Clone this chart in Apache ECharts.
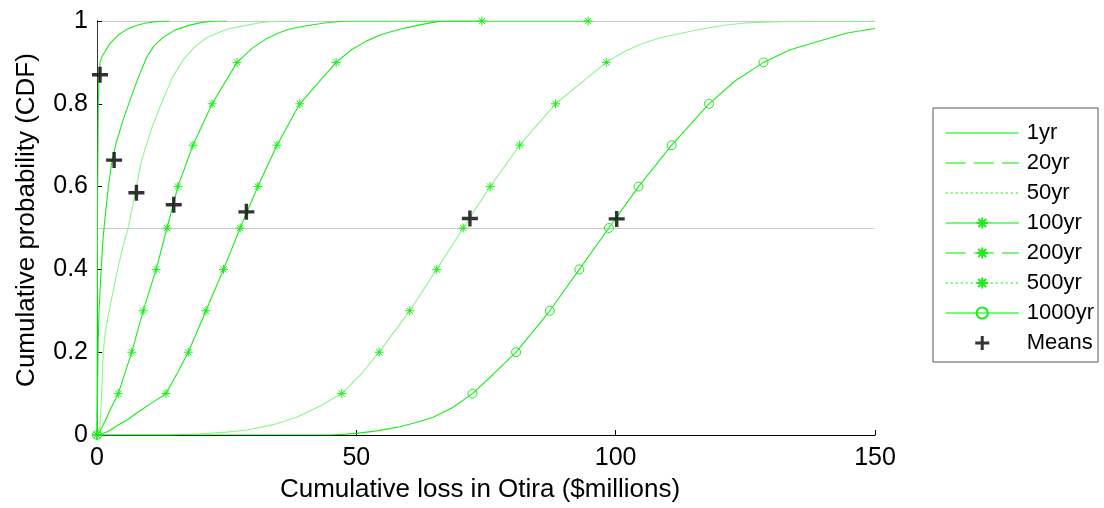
<!DOCTYPE html>
<html>
<head>
<meta charset="utf-8">
<script src="https://cdn.jsdelivr.net/npm/echarts@6/dist/echarts.min.js"></script>
<style>
html,body{margin:0;padding:0;background:#fff;}
#chart{width:1104px;height:508px;}
</style>
</head>
<body>
<div id="chart"></div>
<script>
// ---- data ----
const seriesNames = ['1yr', '20yr', '50yr', '100yr', '200yr', '500yr', '1000yr'];

const curve1yr = [[0,0],[0.05,0.3],[0.1,0.55],[0.2,0.72],[0.25,0.8],[0.4,0.86],[0.58,0.9],[1.0,0.915],[1.5,0.925],[2.5,0.946],[4.1,0.966],[5.5,0.978],[7.3,0.988],[9,0.994],[10.5,0.997],[12,0.999],[14,1]];
const curve20yr = [[0,0],[0.1,0.1],[0.2,0.2],[0.3,0.26],[0.4,0.3],[0.8,0.4],[1.2,0.48],[1.6,0.53],[2.2,0.6],[2.9,0.664],[3.8,0.71],[5,0.76],[6.4,0.81],[8,0.865],[9.6,0.913],[11,0.94],[12.7,0.96],[15,0.978],[17.9,0.99],[20,0.996],[22.4,1],[25,1]];
const curve50yr = [[0,0],[0.58,0.02],[0.9,0.1],[1.2,0.2],[1.6,0.25],[2.2,0.29],[3,0.34],[3.8,0.39],[4.9,0.45],[6,0.5],[7.3,0.58],[8.6,0.664],[10.5,0.74],[12.7,0.81],[14.6,0.865],[16.6,0.906],[18.8,0.937],[21.2,0.96],[25,0.98],[28.9,0.99],[32,0.997],[35,1],[38,1]];
const curve100yr = [[0,0],[0.5,0.008],[1,0.02],[1.6,0.035],[2.2,0.052],[3.1,0.075],[4.1,0.1],[5.4,0.15],[6.7,0.2],[8.9,0.3],[11.4,0.4],[13.5,0.5],[15.6,0.6],[18.5,0.7],[22.2,0.8],[27,0.9],[30,0.935],[32.8,0.958],[35,0.971],[37,0.98],[39.3,0.986],[41.6,0.991],[45,0.997],[48,1],[74.2,1]];
const curve200yr = [[0,0],[1,0.003],[2,0.008],[3,0.015],[4.1,0.024],[6,0.038],[8,0.056],[10.5,0.077],[13.3,0.1],[15.5,0.15],[17.6,0.2],[21,0.3],[24.4,0.4],[27.6,0.5],[31,0.6],[34.7,0.7],[39.1,0.8],[46.1,0.9],[49,0.93],[52,0.952],[55,0.968],[58.4,0.98],[62,0.99],[64.5,0.996],[66.7,1],[94.7,1]];
const curve500yr = [[0,0],[14,0],[20,0.003],[25,0.007],[28.9,0.012],[34,0.025],[38.5,0.043],[43,0.07],[47.2,0.1],[51,0.148],[54.4,0.2],[60.3,0.3],[65.5,0.4],[70.6,0.5],[75.8,0.6],[81.5,0.7],[88.4,0.8],[98.2,0.9],[101.5,0.925],[105,0.945],[108.5,0.959],[112.4,0.97],[116.3,0.98],[120.5,0.989],[125,0.995],[130,0.998],[136,1],[150,1]];
const curve1000yr = [[0,0],[45,0],[48,0.002],[50,0.004],[54,0.01],[58.4,0.02],[61.5,0.03],[64.8,0.043],[68.5,0.066],[72.4,0.1],[76.5,0.148],[80.8,0.2],[87.3,0.3],[93,0.4],[98.7,0.5],[104.4,0.6],[110.8,0.7],[118,0.8],[123,0.855],[128.5,0.9],[133.5,0.93],[138,0.947],[144.6,0.971],[150,0.982]];

// marker positions (points of each curve that carry a symbol)
const marks100yr = [[0,0],[4.1,0.1],[6.7,0.2],[8.9,0.3],[11.4,0.4],[13.5,0.5],[15.6,0.6],[18.5,0.7],[22.2,0.8],[27,0.9],[74.2,1]];
const marks200yr = [[0,0],[13.3,0.1],[17.6,0.2],[21,0.3],[24.4,0.4],[27.6,0.5],[31,0.6],[34.7,0.7],[39.1,0.8],[46.1,0.9],[94.7,1]];
const marks500yr = [[0,0],[47.2,0.1],[54.4,0.2],[60.3,0.3],[65.5,0.4],[70.6,0.5],[75.8,0.6],[81.5,0.7],[88.4,0.8],[98.2,0.9]];
const marks1000yr = [[0,0],[72.4,0.1],[80.8,0.2],[87.3,0.3],[93,0.4],[98.7,0.5],[104.4,0.6],[110.8,0.7],[118,0.8],[128.5,0.9]];

// means (plotted at their CDF level)
const meansData = [[0.58,0.87],[3.3,0.664],[7.6,0.585],[14.8,0.556],[28.8,0.539],[71.9,0.523],[100.2,0.522]];

const xTicks = [0, 50, 100, 150];
const yTicks = [0, 0.2, 0.4, 0.6, 0.8, 1];

// ---- styling ----
const FONT = 'Liberation Sans, Arial, sans-serif';
const BRIGHT = '#19ec19';
const LIGHT = '#8cf58c';
const LEG = '#4cf54c';
const STAR = 'path://M5,0L5,10M0,5L10,5M1.5,1.5L8.5,8.5M1.5,8.5L8.5,1.5';
const CROSS = 'path://M6.3,0H9.7V6.3H16V9.7H9.7V16H6.3V9.7H0V6.3H6.3Z';

function buildData(curve, marks) {
  const items = [];
  const key = p => p[0] + '_' + p[1];
  const markKeys = new Set((marks || []).map(key));
  curve.forEach(p => { if (!markKeys.has(key(p))) items.push({ value: p, symbol: 'none' }); });
  (marks || []).forEach(p => items.push({ value: p }));
  items.sort((a, b) => (a.value[0] - b.value[0]) || (a.value[1] - b.value[1]));
  return items;
}

function lineSeries(name, curve, marks, color, symbol, size, itemStyle) {
  return {
    name: name,
    type: 'line',
    data: buildData(curve, marks),
    symbol: symbol,
    symbolSize: size,
    showSymbol: true,
    showAllSymbol: true,
    smooth: false,
    lineStyle: { color: color, width: 1.1, type: 'solid' },
    itemStyle: itemStyle || { color: BRIGHT },
    emphasis: { disabled: true },
    z: 3
  };
}

const starStyle = { color: BRIGHT, borderColor: BRIGHT, borderWidth: 1 };
const circleStyle = { color: 'rgba(0,0,0,0)', borderColor: BRIGHT, borderWidth: 1 };

const series = [
  lineSeries(seriesNames[0], curve1yr, null, BRIGHT, 'none', 0),
  lineSeries(seriesNames[1], curve20yr, null, BRIGHT, 'none', 0),
  lineSeries(seriesNames[2], curve50yr, null, LIGHT, 'none', 0),
  lineSeries(seriesNames[3], curve100yr, marks100yr, BRIGHT, STAR, 9, starStyle),
  lineSeries(seriesNames[4], curve200yr, marks200yr, BRIGHT, STAR, 9, starStyle),
  lineSeries(seriesNames[5], curve500yr, marks500yr, LIGHT, STAR, 9, starStyle),
  lineSeries(seriesNames[6], curve1000yr, marks1000yr, BRIGHT, 'circle', 9, circleStyle),
  {
    name: 'Means',
    type: 'scatter',
    data: meansData,
    symbol: CROSS,
    symbolSize: 16,
    itemStyle: { color: '#000' },
    emphasis: { disabled: true },
    z: 5
  }
];

const noSym = { opacity: 0 };
const option = {
  animation: false,
  backgroundColor: '#fff',
  grid: { left: 97, right: 229, top: 21, bottom: 72, containLabel: false },
  legend: {
    orient: 'vertical',
    left: 933,
    top: 108,
    padding: [14, 4, 8, 12],
    itemGap: 8,
    itemWidth: 73,
    itemHeight: 14,
    borderColor: '#555',
    borderWidth: 1,
    backgroundColor: '#fff',
    selectedMode: false,
    textStyle: { fontFamily: FONT, fontSize: 22, color: '#000', lineHeight: 22, padding: [0, 0, 0, 3] },
    data: [
      { name: '1yr', itemStyle: noSym, lineStyle: { color: LEG, width: 1.5, type: 'solid' } },
      { name: '20yr', itemStyle: noSym, lineStyle: { color: LEG, width: 1.5, type: [20, 8] } },
      { name: '50yr', itemStyle: noSym, lineStyle: { color: LEG, width: 1.5, type: [2, 3] } },
      { name: '100yr', lineStyle: { color: LEG, width: 1.5, type: 'solid' } },
      { name: '200yr', lineStyle: { color: LEG, width: 1.5, type: [20, 8] } },
      { name: '500yr', lineStyle: { color: LEG, width: 1.5, type: [2, 3] } },
      { name: '1000yr', lineStyle: { color: LEG, width: 1.5, type: 'solid' } },
      { name: 'Means' }
    ]
  },
  xAxis: [
    {
      type: 'value', min: xTicks[0], max: xTicks[xTicks.length - 1], interval: xTicks[1] - xTicks[0],
      position: 'bottom',
      name: 'Cumulative loss in Otira ($millions)',
      nameLocation: 'middle', nameGap: 42,
      nameTextStyle: { fontFamily: FONT, fontSize: 26, color: '#000', padding: [0, 12, 0, 0] },
      axisLine: { show: true, lineStyle: { color: '#7a7a7a', width: 1 } },
      axisTick: { show: true, inside: true, length: 5, lineStyle: { color: '#000' } },
      axisLabel: { fontFamily: FONT, fontSize: 25, color: '#000', margin: 11 },
      splitLine: { show: false }
    },
    {
      type: 'value', min: xTicks[0], max: xTicks[xTicks.length - 1], position: 'top',
      axisLine: { show: true, lineStyle: { color: '#000', width: 1 } },
      axisTick: { show: false }, axisLabel: { show: false }, splitLine: { show: false }
    }
  ],
  yAxis: [
    {
      type: 'value', min: yTicks[0], max: yTicks[yTicks.length - 1], interval: yTicks[1] - yTicks[0],
      position: 'left',
      name: 'Cumulative probability (CDF)',
      nameLocation: 'middle', nameGap: 57,
      nameTextStyle: { fontFamily: FONT, fontSize: 26, color: '#000', padding: [0, 0, 0, 16] },
      axisLine: { show: true, lineStyle: { color: '#000', width: 1 } },
      axisTick: { show: true, inside: true, length: 5, lineStyle: { color: '#000' } },
      axisLabel: { fontFamily: FONT, fontSize: 25, color: '#000', margin: 9 },
      splitLine: { show: false }
    },
    {
      type: 'value', min: 0, max: 1, interval: 0.5, position: 'right',
      axisLine: { show: true, lineStyle: { color: '#333', width: 1 } },
      axisTick: { show: false }, axisLabel: { show: false },
      splitLine: { show: true, lineStyle: { color: '#c8c8c8', width: 1 } }
    }
  ],
  series: series
};

const chart = echarts.init(document.getElementById('chart'), null, { renderer: 'canvas' });
chart.setOption(option);
</script>
</body>
</html>
